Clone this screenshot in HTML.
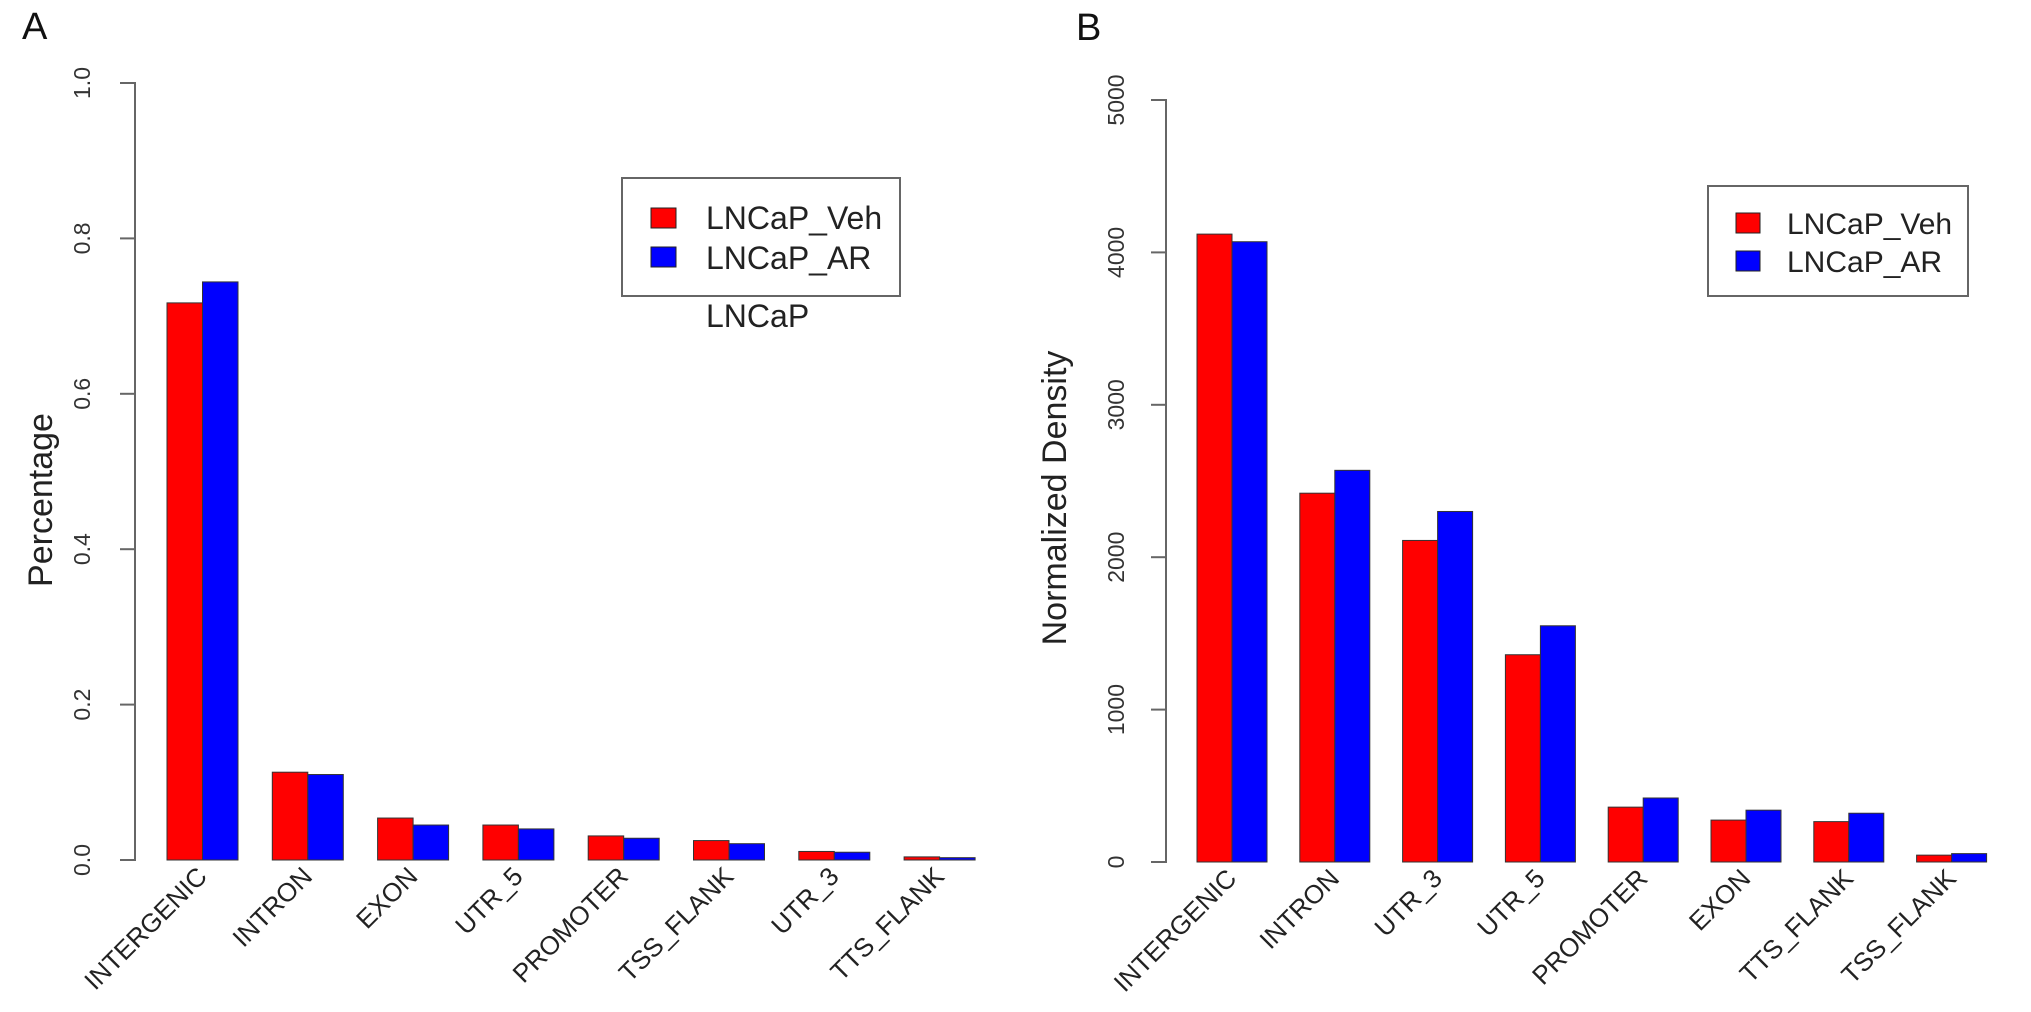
<!DOCTYPE html>
<html><head><meta charset="utf-8"><style>
html,body{margin:0;padding:0;background:#fff;}
svg{display:block;font-family:"Liberation Sans",Arial,sans-serif;}
</style></head><body>
<svg id="fig" width="2031" height="1012" viewBox="0 0 2031 1012">
<text x="22" y="39" font-size="38" fill="#111">A</text>
<text x="1076" y="40" font-size="38" fill="#111">B</text>
<g id="pa"></g>
<g id="pb"></g>
<text transform="translate(52,500) rotate(-90)" text-anchor="middle" font-size="34" fill="#222">Percentage</text>
<text transform="translate(1066,498) rotate(-90)" text-anchor="middle" font-size="34" fill="#222">Normalized Density</text>
<g>
<rect x="622" y="178" width="278" height="118" fill="#fff" stroke="#666" stroke-width="2"/>
<rect x="651" y="208" width="25" height="20" fill="#ff0000" stroke="#222" stroke-width="1"/>
<rect x="651" y="247" width="25" height="20" fill="#0000ff" stroke="#222" stroke-width="1"/>
<text x="706" y="229" font-size="32" fill="#222">LNCaP_Veh</text>
<text x="706" y="269" font-size="32" fill="#222">LNCaP_AR</text>
<text x="706" y="327" font-size="32" fill="#222">LNCaP</text>
</g>
<g>
<rect x="1708" y="186" width="260" height="110" fill="#fff" stroke="#666" stroke-width="2"/>
<rect x="1736" y="213" width="24" height="20" fill="#ff0000" stroke="#222" stroke-width="1"/>
<rect x="1736" y="251" width="24" height="20" fill="#0000ff" stroke="#222" stroke-width="1"/>
<text x="1787" y="234" font-size="30" fill="#222">LNCaP_Veh</text>
<text x="1787" y="272" font-size="30" fill="#222">LNCaP_AR</text>
</g>
</svg>
<script>
const catsA = ["INTERGENIC","INTRON","EXON","UTR_5","PROMOTER","TSS_FLANK","UTR_3","TTS_FLANK"];
const vehA = [0.717,0.113,0.054,0.045,0.031,0.025,0.011,0.004];
const arA = [0.744,0.110,0.045,0.040,0.028,0.021,0.010,0.003];
const ticksA = [0,0.2,0.4,0.6,0.8,1.0];
const tickLabelsA = ["0.0","0.2","0.4","0.6","0.8","1.0"];
const catsB = ["INTERGENIC","INTRON","UTR_3","UTR_5","PROMOTER","EXON","TTS_FLANK","TSS_FLANK"];
const vehB = [4120,2420,2110,1360,360,275,265,45];
const arB = [4070,2570,2300,1550,420,340,320,55];
const ticksB = [0,1000,2000,3000,4000,5000];
const tickLabelsB = ["0","1000","2000","3000","4000","5000"];

const NS="http://www.w3.org/2000/svg";
function mk(tag,attrs,parent){const e=document.createElementNS(NS,tag);for(const k in attrs)e.setAttribute(k,attrs[k]);parent.appendChild(e);return e;}

function draw(g,cfg){
  const yS=v=>cfg.y0+(cfg.y1-cfg.y0)*(v-cfg.vmin)/(cfg.vmax-cfg.vmin);
  const xS=i=>cfg.x0+i*cfg.pitch;
  // axis
  const ax=mk('path',{d:`M${cfg.ax-15},${yS(cfg.ticks[0])}H${cfg.ax}V${yS(cfg.ticks[cfg.ticks.length-1])}H${cfg.ax-15}`,fill:'none',stroke:'#666','stroke-width':2},g);
  
  
  cfg.ticks.forEach((t,i)=>{
    const y=yS(t);
    const tk=mk('line',{x1:cfg.ax-15,x2:cfg.ax,y1:y,y2:y,stroke:'#666','stroke-width':2},g);
    
    
    const tl=mk('text',{transform:`translate(${cfg.lx},${y}) rotate(-90)`,'text-anchor':'middle','font-size':23,fill:'#333'},g);
    tl.textContent=cfg.tickLabels[i];
    
    
  });
  cfg.cats.forEach((c,i)=>{
    const x=xS(i);
    const r=mk('rect',{x:x,y:yS(cfg.veh[i]),width:cfg.bw,height:yS(0)-yS(cfg.veh[i]),fill:'#ff0000',stroke:'#333','stroke-width':1},g);
    
    
    const b=mk('rect',{x:x+cfg.bw,y:yS(cfg.ar[i]),width:cfg.bw,height:yS(0)-yS(cfg.ar[i]),fill:'#0000ff',stroke:'#333','stroke-width':1},g);
    
    
    const cx=x+cfg.bw;
    const t=mk('text',{transform:`translate(${cx+6},${yS(0)+18}) rotate(-45)`,'text-anchor':'end','font-size':26,fill:'#222'},g);
    t.textContent=c;
    
    
  });
}
draw(document.getElementById('pa'),{id:'a',cats:catsA,veh:vehA,ar:arA,ticks:ticksA,tickLabels:tickLabelsA,
  vmin:0,vmax:1,y0:860,y1:83,ax:135,lx:90,x0:167,pitch:105.3,bw:35.5});
draw(document.getElementById('pb'),{id:'b',cats:catsB,veh:vehB,ar:arB,ticks:ticksB,tickLabels:tickLabelsB,
  vmin:0,vmax:5000,y0:862,y1:100,ax:1166,lx:1124,x0:1197,pitch:102.8,bw:35});
</script>
</body></html>
